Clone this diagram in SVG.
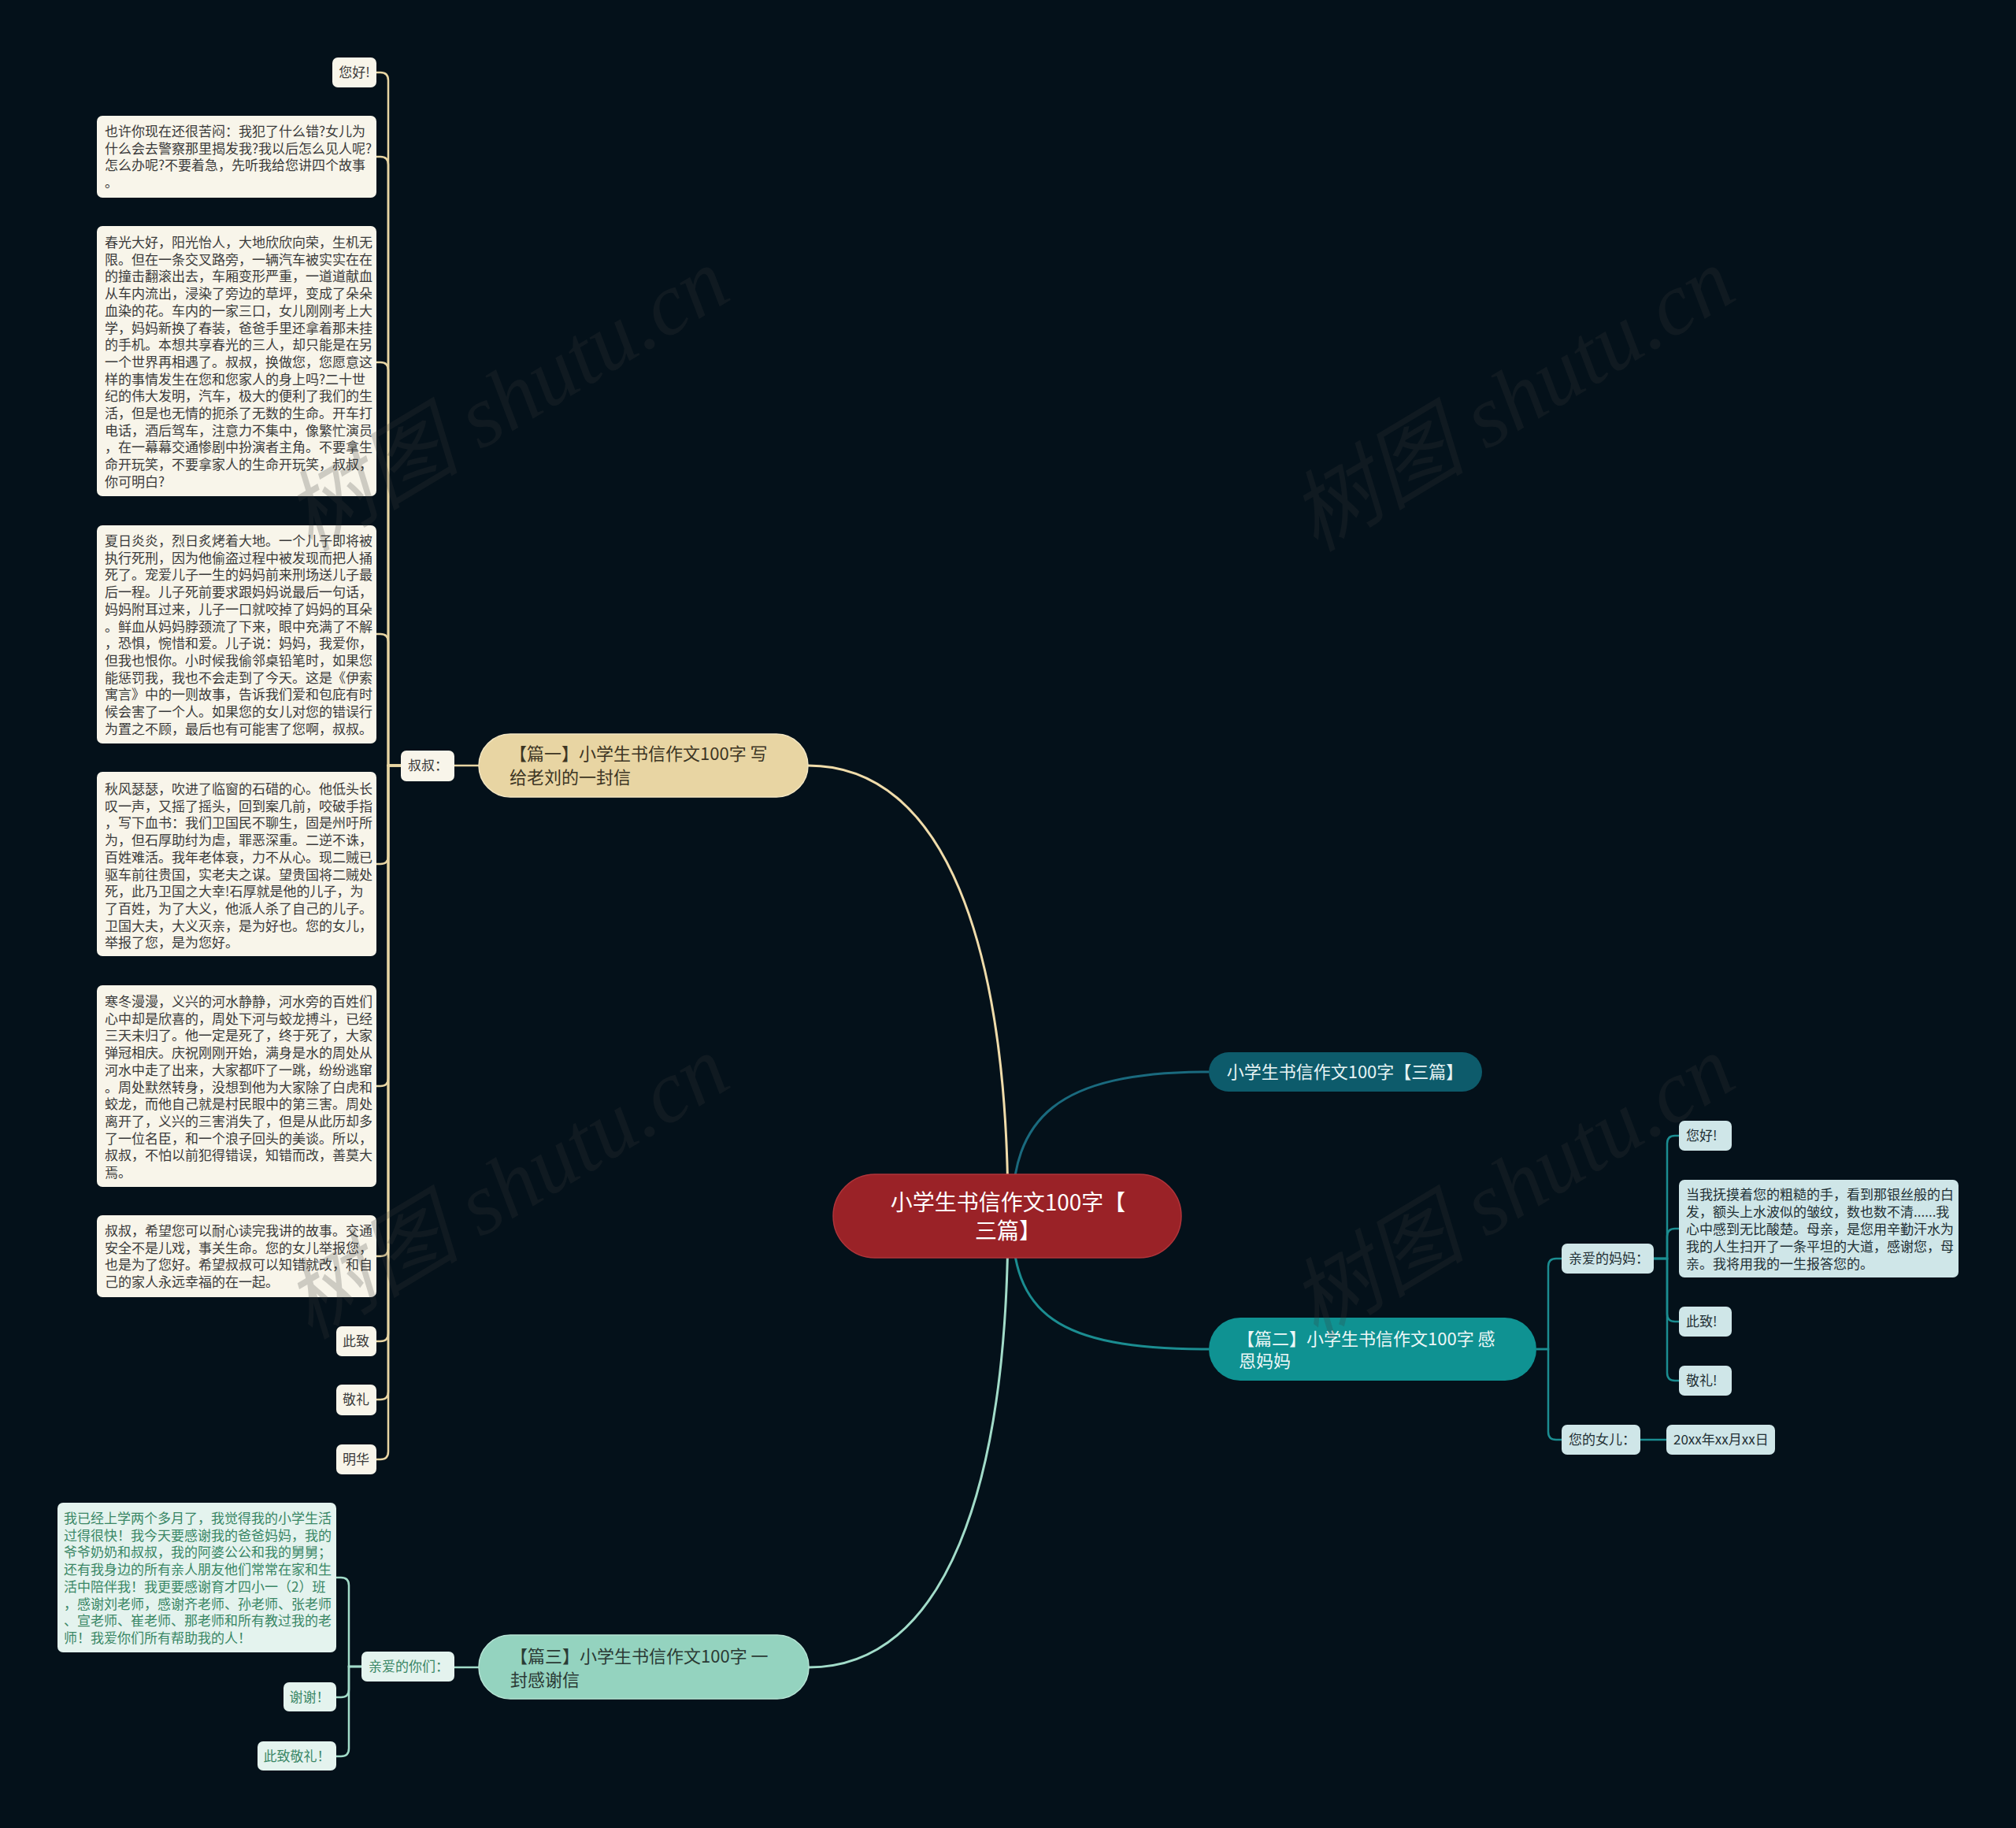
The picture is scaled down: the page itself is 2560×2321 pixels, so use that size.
<svg xmlns="http://www.w3.org/2000/svg" width="2560" height="2321" viewBox="0 0 2560 2321">
<style>
text{font-family:"Noto Sans CJK SC","Noto Sans",sans-serif;}
.t17{font-size:17px;}
.cream{fill:#f8f5ea;}
.ctext{fill:#3b3b3b;}
.mint{fill:#e4f3ee;}
.mtext{fill:#3a8766;}
.blue{fill:#cfe6e8;}
.btext{fill:#1f3035;}
.lc{fill:none;stroke:#e8d5a3;stroke-width:2.5;}
.lm{fill:none;stroke:#a2dcc9;stroke-width:2.5;}
.lt{fill:none;stroke:#1b8d91;stroke-width:2.5;}
.wm{font-family:"Liberation Serif","Noto Sans CJK SC",serif;font-style:italic;font-size:112px;fill:#3a3a3a;opacity:0.22;}
</style>
<rect x="0" y="0" width="2560" height="2321" fill="#04111a"/>

<g id="connectors">
<path d="M1280 1544 C1280 1200 1200 972 1026 972" fill="none" stroke="#f0dcaa" stroke-width="3"/>
<path d="M1280 1544 C1280 1890 1200 2117 1027 2117" fill="none" stroke="#a2dcc9" stroke-width="3"/>
<path d="M1285 1544 C1285 1420 1340 1361 1535 1361" fill="none" stroke="#1a6a7e" stroke-width="3"/>
<path d="M1285 1544 C1285 1668 1340 1713 1535 1713" fill="none" stroke="#1b8d91" stroke-width="3"/>
<path class="lc" d="M608 972 H577"/>
<path class="lc" d="M509 972 H493 V102 Q493 92 483 92 H478"/>
<path class="lc" d="M509 972 H493 V209 Q493 199 483 199 H478"/>
<path class="lc" d="M509 972 H493 V470 Q493 460 483 460 H478"/>
<path class="lc" d="M509 972 H493 V815 Q493 805 483 805 H478"/>
<path class="lc" d="M509 972 H493 V1087 Q493 1097 483 1097 H478"/>
<path class="lc" d="M509 972 H493 V1369 Q493 1379 483 1379 H478"/>
<path class="lc" d="M509 972 H493 V1585 Q493 1595 483 1595 H478"/>
<path class="lc" d="M509 972 H493 V1693 Q493 1703 483 1703 H478"/>
<path class="lc" d="M509 972 H493 V1767 Q493 1777 483 1777 H478"/>
<path class="lc" d="M509 972 H493 V1843 Q493 1853 483 1853 H478"/>
<path class="lm" d="M608 2117 H577"/>
<path class="lm" d="M459 2116 H443 V2013 Q443 2003 433 2003 H427"/>
<path class="lm" d="M459 2116 H443 V2145 Q443 2155 433 2155 H427"/>
<path class="lm" d="M459 2116 H443 V2220 Q443 2230 433 2230 H427"/>
<path class="lt" d="M1951 1713 H1966 V1608 Q1966 1598 1976 1598 H1983"/>
<path class="lt" d="M1951 1713 H1966 V1818 Q1966 1828 1976 1828 H1983"/>
<path class="lt" d="M2100 1598 H2117 V1452 Q2117 1442 2127 1442 H2132"/>
<path class="lt" d="M2100 1598 H2117 V1570 Q2117 1560 2127 1560 H2132"/>
<path class="lt" d="M2100 1598 H2117 V1668 Q2117 1678 2127 1678 H2132"/>
<path class="lt" d="M2100 1598 H2117 V1743 Q2117 1753 2127 1753 H2132"/>
<path class="lt" d="M2083 1828 H2116"/>
</g>

<g id="root">
<rect x="1058" y="1491" width="442" height="106" rx="53" fill="#9a2227" stroke="#b0343a" stroke-width="1.5"/>
<text x="1280" y="1537" font-size="28" fill="#ffffff" text-anchor="middle">小学生书信作文100字【</text>
<text x="1280" y="1573" font-size="28" fill="#ffffff" text-anchor="middle">三篇】</text>
</g>

<g id="title-node">
<rect x="1535" y="1336" width="347" height="50" rx="25" fill="#0d5b6b"/>
<text x="1708" y="1369" font-size="22" fill="#e6f3f4" text-anchor="middle">小学生书信作文100字【三篇】</text>
</g>

<g id="pian1">
<rect x="608" y="932" width="418" height="80" rx="40" fill="#e8d5a3" stroke="#f3e6c2" stroke-width="1.5"/>
<text x="647" y="965" font-size="22" fill="#3d3524">【篇一】小学生书信作文100字 写</text>
<text x="647" y="995" font-size="22" fill="#3d3524">给老刘的一封信</text>
</g>

<g id="pian2">
<rect x="1535" y="1673" width="416" height="80" rx="40" fill="#0f9292"/>
<text x="1571" y="1708" font-size="22" fill="#ecf7f7">【篇二】小学生书信作文100字 感</text>
<text x="1573" y="1736" font-size="22" fill="#ecf7f7">恩妈妈</text>
</g>

<g id="pian3">
<rect x="608" y="2076" width="419" height="81" rx="40" fill="#94d3bf" stroke="#b5e3d4" stroke-width="1.5"/>
<text x="648" y="2111" font-size="22" fill="#2b3a35">【篇三】小学生书信作文100字 一</text>
<text x="648" y="2141" font-size="22" fill="#2b3a35">封感谢信</text>
</g>

<g id="shushu">
<rect class="cream" x="509" y="953" width="68" height="39" rx="7"/>
<text class="t17 ctext" x="518" y="978">叔叔：</text>
</g>

<g id="l-ninhao">
<rect class="cream" x="422" y="73" width="56" height="38" rx="7"/>
<text class="t17 ctext" x="450" y="98" text-anchor="middle">您好!</text>
</g>

<g id="l-box1">
<rect class="cream" x="123" y="147" width="355" height="104" rx="7"/>
<text class="t17 ctext" x="133" y="173">也许你现在还很苦闷：我犯了什么错?女儿为<tspan x="133" dy="21.7">什么会去警察那里揭发我?我以后怎么见人呢?</tspan><tspan x="133" dy="21.7">怎么办呢?不要着急，先听我给您讲四个故事</tspan><tspan x="133" dy="21.7">。</tspan></text>
</g>

<g id="l-box2">
<rect class="cream" x="123" y="287" width="355" height="343" rx="7"/>
<text class="t17 ctext" x="133" y="314">春光大好，阳光怡人，大地欣欣向荣，生机无<tspan x="133" dy="21.7">限。但在一条交叉路旁，一辆汽车被实实在在</tspan><tspan x="133" dy="21.7">的撞击翻滚出去，车厢变形严重，一道道献血</tspan><tspan x="133" dy="21.7">从车内流出，浸染了旁边的草坪，变成了朵朵</tspan><tspan x="133" dy="21.7">血染的花。车内的一家三口，女儿刚刚考上大</tspan><tspan x="133" dy="21.7">学，妈妈新换了春装，爸爸手里还拿着那未挂</tspan><tspan x="133" dy="21.7">的手机。本想共享春光的三人，却只能是在另</tspan><tspan x="133" dy="21.7">一个世界再相遇了。叔叔，换做您，您愿意这</tspan><tspan x="133" dy="21.7">样的事情发生在您和您家人的身上吗?二十世</tspan><tspan x="133" dy="21.7">纪的伟大发明，汽车，极大的便利了我们的生</tspan><tspan x="133" dy="21.7">活，但是也无情的扼杀了无数的生命。开车打</tspan><tspan x="133" dy="21.7">电话，酒后驾车，注意力不集中，像繁忙演员</tspan><tspan x="133" dy="21.7">，在一幕幕交通惨剧中扮演者主角。不要拿生</tspan><tspan x="133" dy="21.7">命开玩笑，不要拿家人的生命开玩笑，叔叔，</tspan><tspan x="133" dy="21.7">你可明白?</tspan></text>
</g>

<g id="l-box3">
<rect class="cream" x="123" y="667" width="355" height="277" rx="7"/>
<text class="t17 ctext" x="133" y="693">夏日炎炎，烈日炙烤着大地。一个儿子即将被<tspan x="133" dy="21.7">执行死刑，因为他偷盗过程中被发现而把人捅</tspan><tspan x="133" dy="21.7">死了。宠爱儿子一生的妈妈前来刑场送儿子最</tspan><tspan x="133" dy="21.7">后一程。儿子死前要求跟妈妈说最后一句话，</tspan><tspan x="133" dy="21.7">妈妈附耳过来，儿子一口就咬掉了妈妈的耳朵</tspan><tspan x="133" dy="21.7">。鲜血从妈妈脖颈流了下来，眼中充满了不解</tspan><tspan x="133" dy="21.7">，恐惧，惋惜和爱。儿子说：妈妈，我爱你，</tspan><tspan x="133" dy="21.7">但我也恨你。小时候我偷邻桌铅笔时，如果您</tspan><tspan x="133" dy="21.7">能惩罚我，我也不会走到了今天。这是《伊索</tspan><tspan x="133" dy="21.7">寓言》中的一则故事，告诉我们爱和包庇有时</tspan><tspan x="133" dy="21.7">候会害了一个人。如果您的女儿对您的错误行</tspan><tspan x="133" dy="21.7">为置之不顾，最后也有可能害了您啊，叔叔。</tspan></text>
</g>

<g id="l-box4">
<rect class="cream" x="123" y="980" width="355" height="234" rx="7"/>
<text class="t17 ctext" x="133" y="1008">秋风瑟瑟，吹进了临窗的石碏的心。他低头长<tspan x="133" dy="21.7">叹一声，又摇了摇头，回到案几前，咬破手指</tspan><tspan x="133" dy="21.7">，写下血书：我们卫国民不聊生，固是州吁所</tspan><tspan x="133" dy="21.7">为，但石厚助纣为虐，罪恶深重。二逆不诛，</tspan><tspan x="133" dy="21.7">百姓难活。我年老体衰，力不从心。现二贼已</tspan><tspan x="133" dy="21.7">驱车前往贵国，实老夫之谋。望贵国将二贼处</tspan><tspan x="133" dy="21.7">死，此乃卫国之大幸!石厚就是他的儿子，为</tspan><tspan x="133" dy="21.7">了百姓，为了大义，他派人杀了自己的儿子。</tspan><tspan x="133" dy="21.7">卫国大夫，大义灭亲，是为好也。您的女儿，</tspan><tspan x="133" dy="21.7">举报了您，是为您好。</tspan></text>
</g>

<g id="l-box5">
<rect class="cream" x="123" y="1251" width="355" height="256" rx="7"/>
<text class="t17 ctext" x="133" y="1278">寒冬漫漫，义兴的河水静静，河水旁的百姓们<tspan x="133" dy="21.7">心中却是欣喜的，周处下河与蛟龙搏斗，已经</tspan><tspan x="133" dy="21.7">三天未归了。他一定是死了，终于死了，大家</tspan><tspan x="133" dy="21.7">弹冠相庆。庆祝刚刚开始，满身是水的周处从</tspan><tspan x="133" dy="21.7">河水中走了出来，大家都吓了一跳，纷纷逃窜</tspan><tspan x="133" dy="21.7">。周处默然转身，没想到他为大家除了白虎和</tspan><tspan x="133" dy="21.7">蛟龙，而他自己就是村民眼中的第三害。周处</tspan><tspan x="133" dy="21.7">离开了，义兴的三害消失了，但是从此历却多</tspan><tspan x="133" dy="21.7">了一位名臣，和一个浪子回头的美谈。所以，</tspan><tspan x="133" dy="21.7">叔叔，不怕以前犯得错误，知错而改，善莫大</tspan><tspan x="133" dy="21.7">焉。</tspan></text>
</g>

<g id="l-box6">
<rect class="cream" x="123" y="1543" width="355" height="104" rx="7"/>
<text class="t17 ctext" x="133" y="1569">叔叔，希望您可以耐心读完我讲的故事。交通<tspan x="133" dy="21.7">安全不是儿戏，事关生命。您的女儿举报您，</tspan><tspan x="133" dy="21.7">也是为了您好。希望叔叔可以知错就改，和自</tspan><tspan x="133" dy="21.7">己的家人永远幸福的在一起。</tspan></text>
</g>

<g id="l-cizhi">
<rect class="cream" x="427" y="1684" width="51" height="38" rx="7"/>
<text class="t17 ctext" x="452" y="1709" text-anchor="middle">此致</text>
</g>
<g id="l-jingli">
<rect class="cream" x="427" y="1758" width="51" height="39" rx="7"/>
<text class="t17 ctext" x="452" y="1783" text-anchor="middle">敬礼</text>
</g>
<g id="l-minghua">
<rect class="cream" x="427" y="1834" width="51" height="38" rx="7"/>
<text class="t17 ctext" x="452" y="1859" text-anchor="middle">明华</text>
</g>

<g id="b-qinai">
<rect class="mint" x="459" y="2097" width="118" height="38" rx="7"/>
<text class="t17 mtext" x="468" y="2122">亲爱的你们：</text>
</g>
<g id="b-box">
<rect class="mint" x="73" y="1908" width="354" height="190" rx="7"/>
<text class="t17 mtext" x="81" y="1934">我已经上学两个多月了，我觉得我的小学生活<tspan x="81" dy="21.7">过得很快！我今天要感谢我的爸爸妈妈，我的</tspan><tspan x="81" dy="21.7">爷爷奶奶和叔叔，我的阿婆公公和我的舅舅；</tspan><tspan x="81" dy="21.7">还有我身边的所有亲人朋友他们常常在家和生</tspan><tspan x="81" dy="21.7">活中陪伴我！我更要感谢育才四小一（2）班</tspan><tspan x="81" dy="21.7">，感谢刘老师，感谢齐老师、孙老师、张老师</tspan><tspan x="81" dy="21.7">、宣老师、崔老师、那老师和所有教过我的老</tspan><tspan x="81" dy="21.7">师！我爱你们所有帮助我的人！</tspan></text>
</g>
<g id="b-xiexie">
<rect class="mint" x="360" y="2136" width="67" height="37" rx="7"/>
<text class="t17 mtext" x="393" y="2161" text-anchor="middle">谢谢！</text>
</g>
<g id="b-cizhijingli">
<rect class="mint" x="327" y="2211" width="100" height="37" rx="7"/>
<text class="t17 mtext" x="377" y="2236" text-anchor="middle">此致敬礼！</text>
</g>

<g id="r-mama">
<rect class="blue" x="1983" y="1579" width="117" height="38" rx="7"/>
<text class="t17 btext" x="1992" y="1604">亲爱的妈妈：</text>
</g>
<g id="r-nver">
<rect class="blue" x="1983" y="1809" width="100" height="38" rx="7"/>
<text class="t17 btext" x="1992" y="1834">您的女儿：</text>
</g>
<g id="r-date">
<rect class="blue" x="2116" y="1809" width="138" height="38" rx="7"/>
<text class="t17 btext" x="2125" y="1834">20xx年xx月xx日</text>
</g>
<g id="r-ninhao">
<rect class="blue" x="2132" y="1423" width="67" height="38" rx="7"/>
<text class="t17 btext" x="2141" y="1448">您好!</text>
</g>
<g id="r-box">
<rect class="blue" x="2132" y="1498" width="355" height="124" rx="7"/>
<text class="t17 btext" x="2141" y="1523">当我抚摸着您的粗糙的手，看到那银丝般的白<tspan x="2141" dy="22">发，额头上水波似的皱纹，数也数不清......我</tspan><tspan x="2141" dy="22">心中感到无比酸楚。母亲，是您用辛勤汗水为</tspan><tspan x="2141" dy="22">我的人生扫开了一条平坦的大道，感谢您，母</tspan><tspan x="2141" dy="22">亲。我将用我的一生报答您的。</tspan></text>
</g>
<g id="r-cizhi">
<rect class="blue" x="2132" y="1659" width="67" height="38" rx="7"/>
<text class="t17 btext" x="2141" y="1684">此致!</text>
</g>
<g id="r-jingli">
<rect class="blue" x="2132" y="1734" width="67" height="38" rx="7"/>
<text class="t17 btext" x="2141" y="1759">敬礼!</text>
</g>

<g id="watermarks">
<text class="wm" x="645" y="545" text-anchor="middle" transform="rotate(-31 645 510)">树图 shutu.cn</text>
<text class="wm" x="1922" y="545" text-anchor="middle" transform="rotate(-31 1922 510)">树图 shutu.cn</text>
<text class="wm" x="645" y="1545" text-anchor="middle" transform="rotate(-31 645 1510)">树图 shutu.cn</text>
<text class="wm" x="1922" y="1545" text-anchor="middle" transform="rotate(-31 1922 1510)">树图 shutu.cn</text>
</g>
</svg>
